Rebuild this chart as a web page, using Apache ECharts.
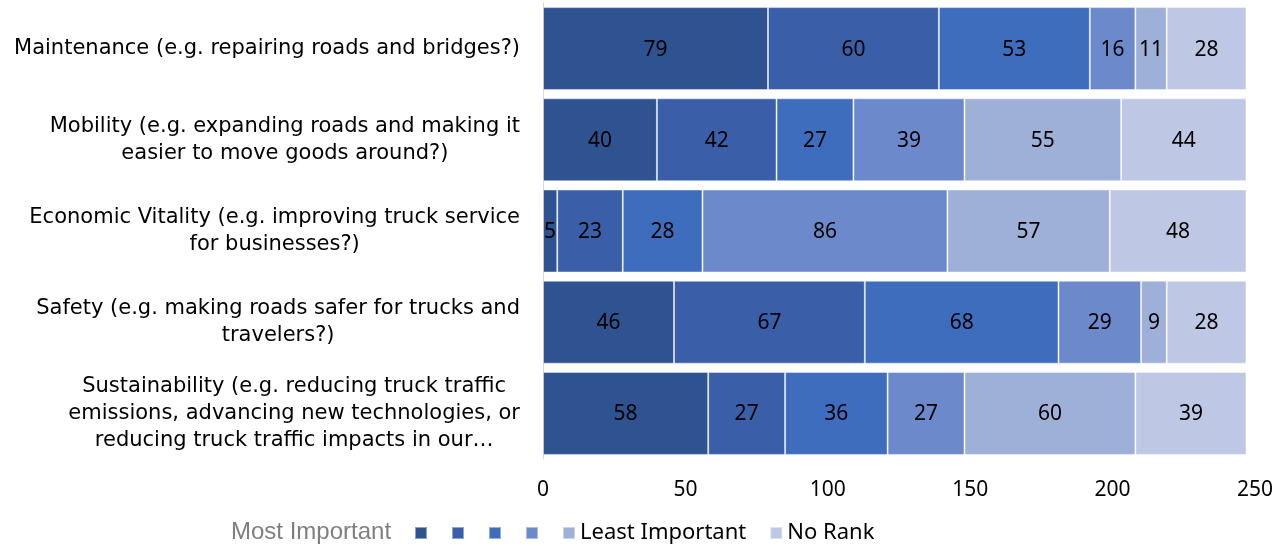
<!DOCTYPE html>
<html>
<head>
<meta charset="utf-8">
<script src="https://cdn.jsdelivr.net/npm/echarts@6/dist/echarts.min.js"></script>
<style>html,body{margin:0;padding:0;background:#fff;}#c{width:1288px;height:548px;}</style>
</head>
<body>
<div id="c"></div>
<script>
const categories = [
  "Maintenance (e.g. repairing roads and bridges?)",
  "Mobility (e.g. expanding roads and making it\neasier to move goods around?)",
  "Economic Vitality (e.g. improving truck service\nfor businesses?)",
  "Safety (e.g. making roads safer for trucks and\ntravelers?)",
  "Sustainability (e.g. reducing truck traffic\nemissions, advancing new technologies, or\nreducing truck traffic impacts in our…"
];
const seriesNames = ["Rank 1", "Rank 2", "Rank 3", "Rank 4", "Least Important", "No Rank"];
const rank1 = [79, 40, 5, 46, 58];
const rank2 = [60, 42, 23, 67, 27];
const rank3 = [53, 27, 28, 68, 36];
const rank4 = [16, 39, 86, 29, 27];
const leastImportant = [11, 55, 57, 9, 60];
const noRank = [28, 44, 48, 28, 39];
const xTicks = [0, 50, 100, 150, 200, 250];

const values = [rank1, rank2, rank3, rank4, leastImportant, noRank];
const colors = ["#2F5290", "#3A5FA8", "#3E6DBD", "#6C89CB", "#9EAFD8", "#BEC8E4"];

const chart = echarts.init(document.getElementById('c'), null, {renderer: 'canvas'});
const labelFont = "'DejaVu Sans', sans-serif";
const numFont = "'Noto Sans', sans-serif";

chart.setOption({
  animation: false,
  color: colors,
  title: {
    text: 'Most Important',
    left: 231, top: 520,
    textStyle: {color: '#7F7F7F', fontFamily: "'Liberation Sans', Arial, sans-serif", fontSize: 24, fontWeight: 'normal'},
    padding: 0
  },
  legend: {
    left: 414, top: 522,
    itemWidth: 12, itemHeight: 12, itemGap: 23,
    icon: 'rect',
    padding: 0,
    data: seriesNames,
    formatter: function (n) { return (n === 'Least Important' || n === 'No Rank') ? n : ''; },
    textStyle: {color: '#000', fontFamily: numFont, fontSize: 22}
  },
  grid: {left: 543, right: 33, top: 3, bottom: 89, containLabel: false},
  xAxis: {
    type: 'value', min: 0, max: 250, interval: 50,
    axisLine: {show: false}, axisTick: {show: false},
    splitLine: {show: false},
    axisLabel: {color: '#000', fontFamily: numFont, fontSize: 21, margin: 21,
      formatter: function (v) { return xTicks.indexOf(v) >= 0 ? String(v) : ''; }}
  },
  yAxis: {
    type: 'category', inverse: true, data: categories,
    axisLine: {show: true, lineStyle: {color: '#D9D9D9', width: 1}},
    axisTick: {show: false},
    axisLabel: {
      margin: 23, align: 'right', color: '#000',
      formatter: function (v) { return v.split('\n').map(function (l) { return '{c|' + l + '}'; }).join('\n'); },
      rich: {c: {align: 'center', fontFamily: labelFont, fontSize: 21, lineHeight: 27, color: '#000'}}
    }
  },
  series: values.map(function (arr, i) {
    return {
      name: seriesNames[i], type: 'bar', stack: 'total', data: arr,
      barCategoryGap: '9%',
      itemStyle: {color: colors[i], borderColor: 'rgba(255,255,255,0.45)', borderWidth: 1},
      label: {show: true, position: 'inside', color: '#000', fontFamily: numFont, fontSize: 21, offset: [0, 1]}
    };
  })
});
</script>
</body>
</html>
